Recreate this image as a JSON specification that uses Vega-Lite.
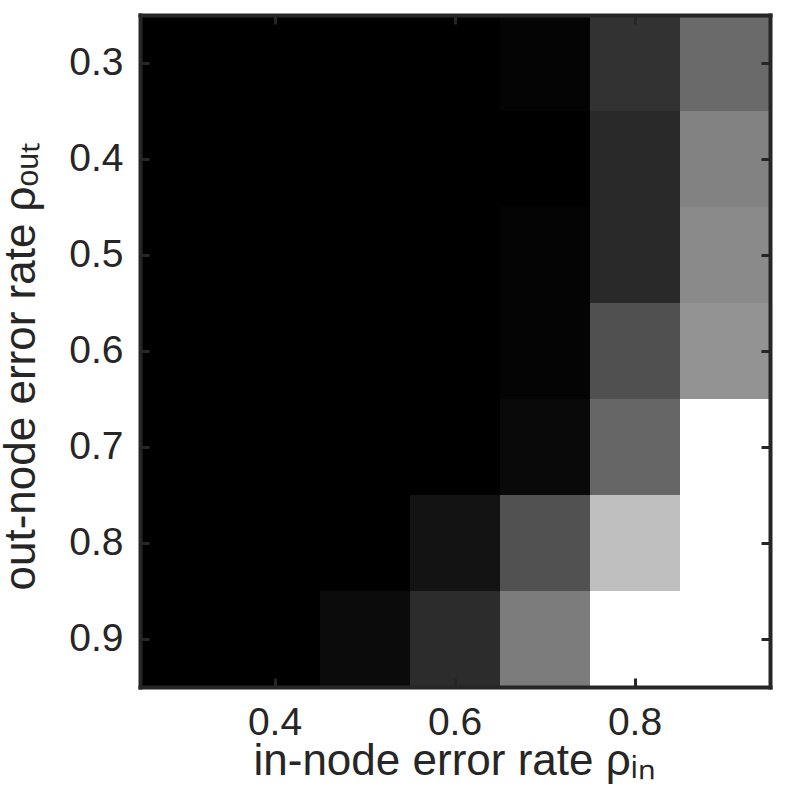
{
  "$schema": "https://vega.github.io/schema/vega-lite/v6.json",
  "width": 630,
  "height": 672,
  "autosize": {"type": "none"},
  "padding": {"left": 140, "top": 15, "right": 27, "bottom": 110},
  "background": "white",
  "config": {
    "view": {"stroke": null},
    "axis": {
      "domainColor": "#262626",
      "domainWidth": 4,
      "domainCap": "square",
      "tickColor": "#262626",
      "tickWidth": 3,
      "tickSize": -9,
      "labelFont": "Liberation Sans",
      "labelFontSize": 39,
      "labelColor": "#262626",
      "titleFont": "Liberation Sans",
      "titleFontSize": 44,
      "titleColor": "#262626",
      "titleFontWeight": "normal",
      "grid": false,
      "labelAngle": 0
    }
  },
  "data": {
    "values": [
      {"rho_in": 0.3, "rho_out": 0.3, "v": 0}, {"rho_in": 0.4, "rho_out": 0.3, "v": 0}, {"rho_in": 0.5, "rho_out": 0.3, "v": 0}, {"rho_in": 0.6, "rho_out": 0.3, "v": 0}, {"rho_in": 0.7, "rho_out": 0.3, "v": 0.016}, {"rho_in": 0.8, "rho_out": 0.3, "v": 0.196}, {"rho_in": 0.9, "rho_out": 0.3, "v": 0.416},
      {"rho_in": 0.3, "rho_out": 0.4, "v": 0}, {"rho_in": 0.4, "rho_out": 0.4, "v": 0}, {"rho_in": 0.5, "rho_out": 0.4, "v": 0}, {"rho_in": 0.6, "rho_out": 0.4, "v": 0}, {"rho_in": 0.7, "rho_out": 0.4, "v": 0}, {"rho_in": 0.8, "rho_out": 0.4, "v": 0.161}, {"rho_in": 0.9, "rho_out": 0.4, "v": 0.51},
      {"rho_in": 0.3, "rho_out": 0.5, "v": 0}, {"rho_in": 0.4, "rho_out": 0.5, "v": 0}, {"rho_in": 0.5, "rho_out": 0.5, "v": 0}, {"rho_in": 0.6, "rho_out": 0.5, "v": 0}, {"rho_in": 0.7, "rho_out": 0.5, "v": 0.016}, {"rho_in": 0.8, "rho_out": 0.5, "v": 0.161}, {"rho_in": 0.9, "rho_out": 0.5, "v": 0.541},
      {"rho_in": 0.3, "rho_out": 0.6, "v": 0}, {"rho_in": 0.4, "rho_out": 0.6, "v": 0}, {"rho_in": 0.5, "rho_out": 0.6, "v": 0}, {"rho_in": 0.6, "rho_out": 0.6, "v": 0}, {"rho_in": 0.7, "rho_out": 0.6, "v": 0.016}, {"rho_in": 0.8, "rho_out": 0.6, "v": 0.314}, {"rho_in": 0.9, "rho_out": 0.6, "v": 0.576},
      {"rho_in": 0.3, "rho_out": 0.7, "v": 0}, {"rho_in": 0.4, "rho_out": 0.7, "v": 0}, {"rho_in": 0.5, "rho_out": 0.7, "v": 0}, {"rho_in": 0.6, "rho_out": 0.7, "v": 0}, {"rho_in": 0.7, "rho_out": 0.7, "v": 0.035}, {"rho_in": 0.8, "rho_out": 0.7, "v": 0.4}, {"rho_in": 0.9, "rho_out": 0.7, "v": 1},
      {"rho_in": 0.3, "rho_out": 0.8, "v": 0}, {"rho_in": 0.4, "rho_out": 0.8, "v": 0}, {"rho_in": 0.5, "rho_out": 0.8, "v": 0}, {"rho_in": 0.6, "rho_out": 0.8, "v": 0.075}, {"rho_in": 0.7, "rho_out": 0.8, "v": 0.318}, {"rho_in": 0.8, "rho_out": 0.8, "v": 0.749}, {"rho_in": 0.9, "rho_out": 0.8, "v": 1},
      {"rho_in": 0.3, "rho_out": 0.9, "v": 0}, {"rho_in": 0.4, "rho_out": 0.9, "v": 0}, {"rho_in": 0.5, "rho_out": 0.9, "v": 0.043}, {"rho_in": 0.6, "rho_out": 0.9, "v": 0.173}, {"rho_in": 0.7, "rho_out": 0.9, "v": 0.482}, {"rho_in": 0.8, "rho_out": 0.9, "v": 1}, {"rho_in": 0.9, "rho_out": 0.9, "v": 1}
    ]
  },
  "layer": [
    {
      "mark": {"type": "rect"},
      "encoding": {
        "x": {
          "field": "rho_in", "type": "ordinal",
          "scale": {"paddingInner": 0, "paddingOuter": 0},
          "axis": {
            "orient": "bottom",
            "zindex": 1,
            "values": [0.4, 0.6, 0.8],
            "labelBaseline": "alphabetic",
            "labelPadding": 56,
            "title": "in-node error rate ρᵢₙ",
            "titleBaseline": "alphabetic",
            "titleAlign": "left",
            "titleX": 113,
            "titleY": 87
          }
        },
        "y": {
          "field": "rho_out", "type": "ordinal",
          "scale": {"paddingInner": 0, "paddingOuter": 0},
          "axis": {
            "orient": "left",
            "zindex": 1,
            "labelPadding": 26,
            "title": "out-node error rate ρₒᵤₜ",
            "titleBaseline": "alphabetic",
            "titleAlign": "left",
            "titleAngle": -90,
            "titleX": -106,
            "titleY": 575
          }
        },
        "color": {
          "field": "v", "type": "quantitative",
          "scale": {"type": "linear", "domain": [0, 1], "range": ["#000000", "#ffffff"], "interpolate": "rgb"},
          "legend": null
        }
      }
    },
    {
      "mark": {"type": "rect", "opacity": 0},
      "encoding": {
        "x": {
          "field": "rho_in", "type": "ordinal",
          "axis": {"orient": "top", "zindex": 1, "values": [0.4, 0.6, 0.8], "labels": false, "title": null}
        },
        "y": {
          "field": "rho_out", "type": "ordinal",
          "axis": {"orient": "right", "zindex": 1, "labels": false, "title": null}
        }
      }
    }
  ],
  "resolve": {"axis": {"x": "independent", "y": "independent"}}
}
